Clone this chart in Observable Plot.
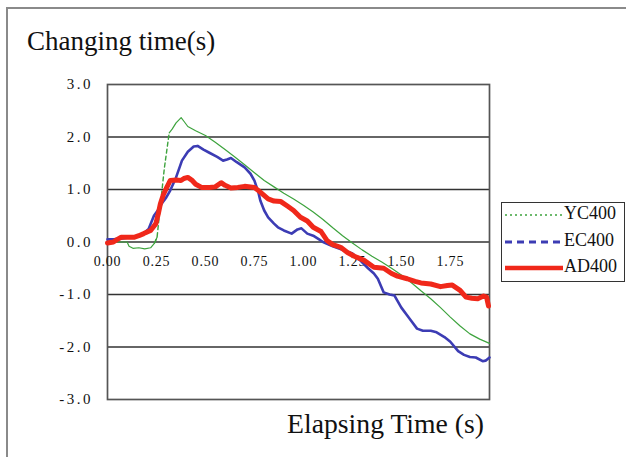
<!DOCTYPE html>
<html>
<head>
<meta charset="utf-8">
<script src="https://cdn.jsdelivr.net/npm/d3@7"></script>
<script src="https://cdn.jsdelivr.net/npm/@observablehq/plot@0.6"></script>
<style>
  html, body { margin: 0; padding: 0; background: #fff; overflow: hidden; }
  #wrap { position: relative; width: 626px; height: 457px; font-family: "Liberation Serif", serif; }
  #outer { position: absolute; left: 6px; top: 7px; width: 700px; height: 500px; border-left: 2px solid #8a8a8a; border-top: 2px solid #8a8a8a; }
  #chart { position: absolute; left: 0; top: 0; }
  #title { position: absolute; left: 27px; top: 28px; font-size: 27px; line-height: 27px; white-space: nowrap; color: #111; }
  #xlabel { position: absolute; right: 142px; top: 410px; font-size: 27.7px; line-height: 27px; white-space: nowrap; color: #111; }
  #legend { position: absolute; left: 501px; top: 202px; width: 124px; height: 80px; box-sizing: border-box; border: 1px solid #333; background: #fff; }
  .ytl { letter-spacing: 2.5px; }
  .xtl { letter-spacing: 0.8px; }
</style>
</head>
<body>
<div id="wrap">
  <div id="outer"></div>
  <div id="chart"></div>
  <div id="title">Changing time(s)</div>
  <div id="xlabel">Elapsing Time (s)</div>
  <div id="legend"></div>
</div>
<script>
// ---- data ----
const seriesNames = ["YC400", "EC400", "AD400"];
const seriesColors = ["#3da33d", "#3c3cb4", "#f0281a"];
const xTicks = [0, 0.25, 0.5, 0.75, 1.0, 1.25, 1.5, 1.75];
const yTicks = [3, 2, 1, 0, -1, -2, -3];

// [elapsed time (s), changing time (s)]
const yc400 = [
  [0,0],[0.05,0.0],[0.1,0.0],[0.11,-0.08],[0.13,-0.12],[0.16,-0.11],[0.19,-0.13],[0.22,-0.11],[0.24,-0.02],
  [0.253,0.09],[0.27,0.7],[0.29,1.4],[0.315,2.08],[0.33,2.15],[0.35,2.27],[0.376,2.37],[0.39,2.3],[0.41,2.2],
  [0.45,2.12],[0.5,2.03],[0.55,1.9],[0.6,1.76],[0.65,1.62],[0.7,1.47],[0.75,1.32],[0.8,1.17],[0.85,1.05],
  [0.9,0.93],[0.95,0.82],[1.0,0.7],[1.05,0.57],[1.1,0.43],[1.15,0.27],[1.2,0.12],[1.25,-0.02],[1.3,-0.15],
  [1.35,-0.27],[1.4,-0.38],[1.45,-0.5],[1.5,-0.63],[1.55,-0.77],[1.6,-0.93],[1.65,-1.08],[1.7,-1.25],
  [1.75,-1.43],[1.8,-1.6],[1.85,-1.75],[1.9,-1.85],[1.95,-1.93]
];
const ec400 = [
  [0,0.05],[0.03,0.05],[0.06,0.06],[0.1,0.08],[0.14,0.1],[0.18,0.15],[0.21,0.25],[0.237,0.5],[0.26,0.62],
  [0.28,0.75],[0.3,0.85],[0.32,0.98],[0.35,1.23],[0.38,1.55],[0.41,1.72],[0.44,1.82],[0.46,1.83],[0.49,1.76],
  [0.52,1.7],[0.56,1.62],[0.59,1.55],[0.61,1.57],[0.63,1.6],[0.66,1.52],[0.7,1.42],[0.73,1.3],[0.75,1.17],
  [0.77,0.95],[0.78,0.79],[0.8,0.6],[0.82,0.47],[0.85,0.35],[0.87,0.28],[0.9,0.22],[0.94,0.16],[0.97,0.24],
  [0.99,0.26],[1.02,0.16],[1.05,0.12],[1.08,0.05],[1.1,0.0],[1.15,-0.08],[1.2,-0.15],[1.25,-0.22],[1.29,-0.35],
  [1.33,-0.5],[1.36,-0.6],[1.38,-0.7],[1.41,-0.96],[1.44,-1.0],[1.465,-1.02],[1.5,-1.25],[1.53,-1.4],
  [1.55,-1.5],[1.58,-1.65],[1.61,-1.69],[1.65,-1.69],[1.68,-1.72],[1.72,-1.81],[1.75,-1.9],[1.79,-2.08],
  [1.82,-2.15],[1.85,-2.19],[1.88,-2.2],[1.915,-2.27],[1.93,-2.26],[1.95,-2.2]
];
const ad400 = [
  [0,-0.02],[0.03,0.0],[0.05,0.05],[0.07,0.09],[0.1,0.09],[0.135,0.09],[0.16,0.12],[0.185,0.16],[0.22,0.22],
  [0.247,0.35],[0.26,0.55],[0.27,0.73],[0.285,0.9],[0.3,1.02],[0.32,1.17],[0.35,1.18],[0.375,1.17],[0.39,1.21],
  [0.41,1.23],[0.43,1.18],[0.45,1.1],[0.48,1.04],[0.52,1.04],[0.55,1.05],[0.58,1.13],[0.6,1.08],[0.63,1.03],
  [0.665,1.04],[0.7,1.06],[0.75,1.04],[0.78,0.95],[0.82,0.82],[0.85,0.78],[0.885,0.77],[0.92,0.68],[0.95,0.6],
  [0.985,0.47],[1.02,0.4],[1.05,0.28],[1.09,0.2],[1.12,0.03],[1.15,-0.05],[1.19,-0.1],[1.225,-0.2],[1.26,-0.27],
  [1.31,-0.35],[1.36,-0.48],[1.41,-0.5],[1.45,-0.6],[1.48,-0.65],[1.53,-0.7],[1.57,-0.75],[1.6,-0.78],
  [1.65,-0.8],[1.7,-0.85],[1.735,-0.83],[1.76,-0.82],[1.8,-0.92],[1.83,-1.05],[1.86,-1.07],[1.89,-1.08],
  [1.92,-1.03],[1.935,-1.05],[1.945,-1.22]
];

// ---- chart ----
const fmtY = d => d.toFixed(1);
const fmtX = d => d.toFixed(2);
const ycRise = yc400.filter(d => d[0] >= 0.24 && d[0] <= 0.315);

const chart = Plot.plot({
  width: 626,
  height: 457,
  marginTop: 84,
  marginLeft: 107,
  marginRight: 137,
  marginBottom: 58,
  x: { domain: [0, 1.95], axis: null },
  y: { domain: [-3, 3], axis: null },
  style: { fontFamily: "Liberation Serif, serif", background: "transparent" },
  marks: [
    Plot.ruleY(yTicks.filter(d => d > -3 && d < 3), { stroke: "#333", strokeWidth: 1.7 }),
    Plot.frame({ stroke: "#555", strokeWidth: 1.7 }),
    Plot.text(yTicks, { y: d => d, text: d => fmtY(d), frameAnchor: "left", textAnchor: "end", dx: -14.5, fontSize: 15, fill: "#111", className: "ytl" }),
    Plot.text(xTicks, { x: d => d, y: 0, text: d => fmtX(d), dy: 20, fontSize: 14, fill: "#111", className: "xtl" }),
    Plot.line(yc400.filter(d => d[0] <= 0.253), { x: d => d[0], y: d => d[1], stroke: seriesColors[0], strokeWidth: 1.2 }),
    Plot.line(ycRise, { x: d => d[0], y: d => d[1], stroke: seriesColors[0], strokeWidth: 1.4, strokeDasharray: "4,3" }),
    Plot.line(yc400.filter(d => d[0] >= 0.315), { x: d => d[0], y: d => d[1], stroke: seriesColors[0], strokeWidth: 1.2 }),
    Plot.line(ec400, { x: d => d[0], y: d => d[1], stroke: seriesColors[1], strokeWidth: 2.6, strokeLinejoin: "round" }),
    Plot.line(ad400, { x: d => d[0], y: d => d[1], stroke: seriesColors[2], strokeWidth: 5, strokeLinejoin: "round" })
  ]
});
document.getElementById("chart").appendChild(chart);

// ---- legend ----
const dashes = ["2,3", "7,5", null];
const widths = [1.6, 3, 4.5];
const rowsY = [12, 39, 65];
const ns = "http://www.w3.org/2000/svg";
const lsvg = document.createElementNS(ns, "svg");
lsvg.setAttribute("width", 122);
lsvg.setAttribute("height", 78);
seriesNames.forEach((name, i) => {
  const ln = document.createElementNS(ns, "line");
  ln.setAttribute("x1", 3); ln.setAttribute("x2", 61);
  ln.setAttribute("y1", rowsY[i]); ln.setAttribute("y2", rowsY[i]);
  ln.setAttribute("stroke", seriesColors[i]);
  ln.setAttribute("stroke-width", widths[i]);
  if (dashes[i]) ln.setAttribute("stroke-dasharray", dashes[i]);
  lsvg.appendChild(ln);
  const tx = document.createElementNS(ns, "text");
  tx.setAttribute("x", 62); tx.setAttribute("y", rowsY[i]);
  tx.setAttribute("dominant-baseline", "middle");
  tx.setAttribute("font-family", "Liberation Serif, serif");
  tx.setAttribute("font-size", 18);
  tx.setAttribute("fill", "#111");
  tx.textContent = name;
  lsvg.appendChild(tx);
});
document.getElementById("legend").appendChild(lsvg);
</script>
</body>
</html>
